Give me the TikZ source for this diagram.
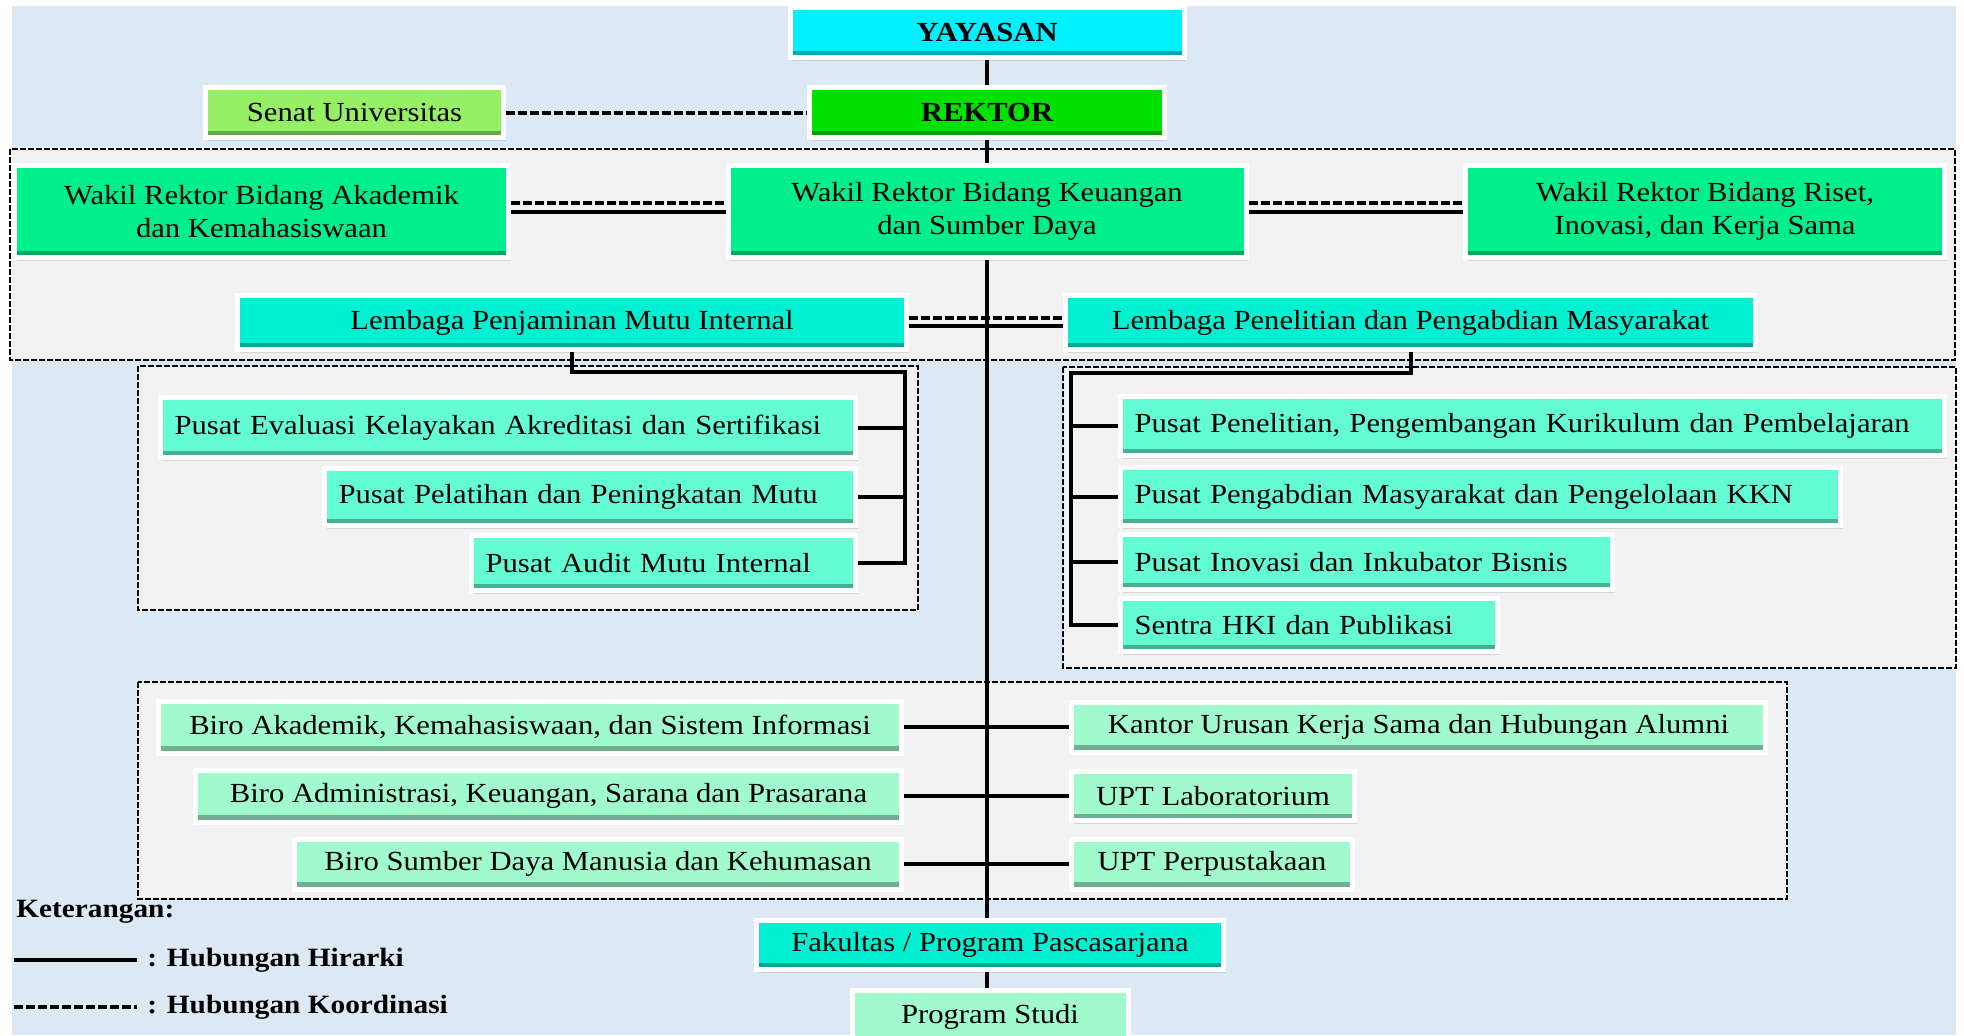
\documentclass[tikz,border=0pt]{standalone}
\usepackage{fontspec}
\setmainfont{Liberation Serif}[FakeStretch=1.11]
\usepackage{tikz}
\usetikzlibrary{shadows}
\usepackage{xcolor}
\definecolor{bgblue}{RGB}{221,232,245}
\definecolor{panel}{RGB}{242,242,242}
\definecolor{yaycol}{RGB}{0,240,255}
\definecolor{rekcol}{RGB}{0,225,0}
\definecolor{sencol}{RGB}{150,240,100}
\definecolor{wrcol}{RGB}{0,238,140}
\definecolor{lbcol}{RGB}{0,240,210}
\definecolor{pucol}{RGB}{100,252,210}
\definecolor{bicol}{RGB}{160,250,205}

\begin{document}
\begin{tikzpicture}[
    x=0.5pt, y=-0.5pt,
    font=\fontsize{13.8}{16.5}\selectfont,
    box/.style={rectangle, draw=white, line width=2.5pt, fill=#1, inner sep=3pt, align=center,
        drop shadow={opacity=0.25, shadow xshift=1pt, shadow yshift=-1.5pt},
        path picture={\fill[#1!70!black] (path picture bounding box.south west) rectangle ([yshift=3.5pt]path picture bounding box.south east);}},
    top/.style={box=#1, font=\fontsize{13.8}{16.5}\selectfont\bfseries},
    wr/.style={box=wrcol},
    lb/.style={box=lbcol},
    pu/.style={box=pucol, align=left, inner xsep=7pt},
    bir/.style={box=bicol},
    grp/.style={draw, line width=1pt, dash pattern=on 3pt off 1pt, fill=panel},
    hi/.style={line width=2pt},
    ko/.style={line width=2pt, dash pattern=on 4.5pt off 1.5pt},
    leg/.style={font=\fontsize{13.2}{16}\selectfont\bfseries, inner sep=2pt}
]
\useasboundingbox (0,0) rectangle (1964,1035);
\clip (0,0) rectangle (1964,1035);
\fill[white] (0,0) rectangle (1964,1035);
\fill[bgblue] (12,6) rectangle (1956,1035);

\draw[grp] (10,149) rectangle (1955,360);
\draw[grp] (138,366) rectangle (918,610);
\draw[grp] (1063,367) rectangle (1956,668);
\draw[grp] (138,682) rectangle (1787,899);

\node[top=yaycol, minimum width=197pt, minimum height=25pt] (yay) at (987,32.5) {YAYASAN};
\node[top=rekcol, minimum width=177.5pt, minimum height=25pt] (rek) at (987,112.5) {REKTOR};
\node[box=sencol, minimum width=149pt, minimum height=25pt] (sen) at (354.5,112.5) {Senat Universitas};

\node[wr, minimum width=247pt, minimum height=46pt] (wr1) at (261.5,211.5) {Wakil Rektor Bidang Akademik\\ dan Kemahasiswaan};
\node[wr, minimum width=259pt, minimum height=46pt] (wr2) at (987,211.5) {Wakil Rektor Bidang Keuangan\\ dan Sumber Daya};
\node[wr, minimum width=239.5pt, minimum height=46pt] (wr3) at (1705,211.5) {Wakil Rektor Bidang Riset,\\ Inovasi, dan Kerja Sama};

\node[lb, minimum width=334.5pt, minimum height=27pt] (lpm) at (572,322.5) {Lembaga Penjaminan Mutu Internal};
\node[lb, minimum width=345pt, minimum height=27pt] (lppm) at (1410.5,322.5) {Lembaga Penelitian dan Pengabdian Masyarakat};

\node[pu, text width=333.5pt, minimum height=30pt] (pm1) at (508,427.5) {Pusat Evaluasi Kelayakan Akreditasi dan Sertifikasi};
\node[pu, text width=251.5pt, minimum height=28.5pt] (pm2) at (590,497) {Pusat Pelatihan dan Peningkatan Mutu};
\node[pu, text width=178pt, minimum height=27.5pt] (pm3) at (663.5,563) {Pusat Audit Mutu Internal};

\node[pu, text width=398pt, minimum height=29.5pt] (pp1) at (1532.5,426) {Pusat Penelitian, Pengembangan Kurikulum dan Pembelajaran};
\node[pu, text width=346pt, minimum height=29pt] (pp2) at (1480.5,496.5) {Pusat Pengabdian Masyarakat dan Pengelolaan KKN};
\node[pu, text width=232pt, minimum height=27.5pt] (pp3) at (1366.5,562) {Pusat Inovasi dan Inkubator Bisnis};
\node[pu, text width=174.5pt, minimum height=26.5pt] (pp4) at (1309,625) {Sentra HKI dan Publikasi};

\node[bir, minimum width=371.5pt, minimum height=26pt] (br1) at (530,727) {Biro Akademik, Kemahasiswaan, dan Sistem Informasi};
\node[bir, minimum width=353pt, minimum height=26pt] (br2) at (548.5,796) {Biro Administrasi, Keuangan, Sarana dan Prasarana};
\node[bir, minimum width=303.5pt, minimum height=25pt] (br3) at (598,864) {Biro Sumber Daya Manusia dan Kehumasan};
\node[bir, minimum width=347pt, minimum height=25pt] (ku1) at (1418.5,727) {Kantor Urusan Kerja Sama dan Hubungan Alumni};
\node[bir, minimum width=141.5pt, minimum height=24.5pt] (ku2) at (1213,796) {UPT Laboratorium};
\node[bir, minimum width=140.5pt, minimum height=25pt] (ku3) at (1212,864) {UPT Perpustakaan};

\node[lb, minimum width=233.5pt, minimum height=24.5pt] (fak) at (990,945) {Fakultas / Program Pascasarjana};
\node[bir, minimum width=138pt, minimum height=26pt] (prd) at (990,1016.5) {Program Studi};

\node[leg, anchor=west] (ket) at (12,912) {Keterangan:};
\coordinate (lg1) at (14,960);
\node[leg, anchor=west, inner xsep=5pt] (lgh) at (137,960) {: Hubungan Hirarki};
\coordinate (lg2) at (14,1007);
\node[leg, anchor=west, inner xsep=5pt] (lgk) at (137,1007) {: Hubungan Koordinasi};

\coordinate (lmb) at (905,372);
\coordinate (lpb) at (1071,373);

\draw[hi] (yay) -- (rek);
\draw[hi] (rek) -- (wr2);
\draw[hi] (wr2.south) -- (wr2.south |- fak.north);
\draw[hi] (fak.south -| wr2.south) -- (prd.north -| wr2.south);
\draw[ko] (sen) -- (rek);
\draw[ko] ([yshift=4.5pt]wr1.east) -- ([yshift=4.5pt]wr2.west);
\draw[hi] (wr1) -- (wr2);
\draw[ko] ([yshift=4.5pt]wr2.east) -- ([yshift=4.5pt]wr3.west);
\draw[hi] (wr2) -- (wr3);
\draw[ko] ([yshift=2.5pt]lpm.east) -- ([yshift=2.5pt]lppm.west);
\draw[hi] ([yshift=-1.5pt]lpm.east) -- ([yshift=-1.5pt]lppm.west);
\draw[hi] (lpm.south) |- (lmb) |- (pm3.east);
\draw[hi] (pm1.east) -- (pm1.east -| lmb);
\draw[hi] (pm2.east) -- (pm2.east -| lmb);
\draw[hi] (lppm.south) |- (lpb) |- (pp4.west);
\foreach \n in {pp1,pp2,pp3}
    \draw[hi] (\n.west) -- (\n.west -| lpb);
\draw[hi] (br1) -- (ku1);
\draw[hi] (br2) -- (ku2);
\draw[hi] (br3) -- (ku3);
\draw[hi] (lg1) -- (lgh.west);
\draw[ko] (lg2) -- (lgk.west);
\end{tikzpicture}
\end{document}
